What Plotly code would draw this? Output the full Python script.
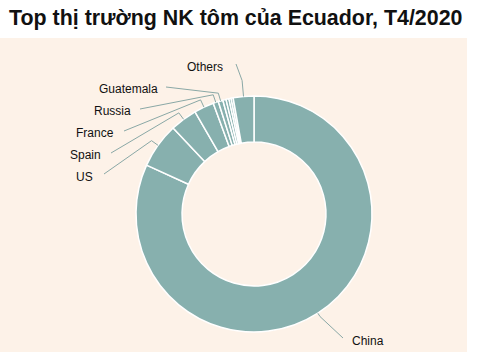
import math
import plotly.graph_objects as go

# ---- data ----
markets = ["China", "US", "Spain", "France", "Russia", "Guatemala",
           "Khác 1", "Khác 2", "Khác 3", "Khác 4", "Others"]
shares = [81.8, 6.19, 3.69, 2.72, 0.72, 0.64, 0.44, 0.40, 0.30, 0.28, 2.83]
shown_labels = ["China", "US", "Spain", "France", "Russia", "Guatemala", "Others"]
title_text = "Top thị trường NK tôm của Ecuador, T4/2020"

# ---- layout constants (pixels) ----
W, H = 477, 361
CX, CY, R = 254, 214, 118
HOLE = 0.61
TEAL = "#87b0ae"
BEIGE = "#fdf2e8"

# label text anchor (x, y, xanchor) and where the leader line meets the label
label_pos = {
    "Others":    (225, 67, "right", (236, 64)),
    "Guatemala": (160, 89, "right", (166, 87)),
    "Russia":    (133, 111, "right", (140, 109)),
    "France":    (116, 133, "right", (124, 131)),
    "Spain":     (103, 155, "right", (111, 153)),
    "US":        (95, 177, "right", (104, 174)),
    "China":     (350, 341, "left", (343, 338)),
}
elbow_extra = {"Others": 16, "China": 4}


def px(x):
    return x / W


def py(y):
    return 1 - y / H


fig = go.Figure()
fig.add_trace(go.Pie(
    labels=markets, values=shares, sort=False, direction="clockwise",
    rotation=0, hole=HOLE, textinfo="none", hoverinfo="label+percent",
    marker=dict(colors=[TEAL] * len(markets), line=dict(color="white", width=1.5)),
    domain=dict(x=[px(CX - R), px(CX + R)], y=[py(CY + R), py(CY - R)]),
    showlegend=False,
))

shapes = [dict(type="rect", xref="paper", yref="paper", x0=0, x1=px(467),
               y0=py(352), y1=py(38), fillcolor=BEIGE, line=dict(width=0),
               layer="below")]
annotations = []

total = sum(shares)
cum = 0.0
for name, val in zip(markets, shares):
    mid = (cum + val / 2) / total * 2 * math.pi
    cum += val
    if name not in shown_labels:
        continue
    tx, ty, anchor, (lx, ly) = label_pos[name]
    sx = CX + R * math.sin(mid)
    sy = CY - R * math.cos(mid)
    e = R + elbow_extra.get(name, 8)
    ex = CX + e * math.sin(mid)
    ey = CY - e * math.cos(mid)
    path = (f"M {px(sx)},{py(sy)} L {px(ex)},{py(ey)} L {px(lx)},{py(ly)}")
    shapes.append(dict(type="path", xref="paper", yref="paper", path=path,
                       line=dict(color="#8aa8a6", width=1)))
    annotations.append(dict(x=px(tx), y=py(ty), xref="paper", yref="paper",
                            text=name, showarrow=False, xanchor=anchor,
                            yanchor="middle",
                            font=dict(family="Liberation Sans, Arial", size=12,
                                      color="#111111")))

annotations.append(dict(x=px(7), y=py(18), xref="paper", yref="paper",
                        text=f"<b>{title_text}</b>", showarrow=False,
                        xanchor="left", yanchor="middle",
                        font=dict(family="Liberation Sans, Arial", size=21.4,
                                  color="#111111")))

fig.update_layout(
    width=W, height=H, margin=dict(l=0, r=0, t=0, b=0),
    paper_bgcolor="white", plot_bgcolor="white",
    shapes=shapes, annotations=annotations,
)

fig.write_html("out.html", config={"displayModeBar": False},
               post_script="document.body.style.margin='0';")
